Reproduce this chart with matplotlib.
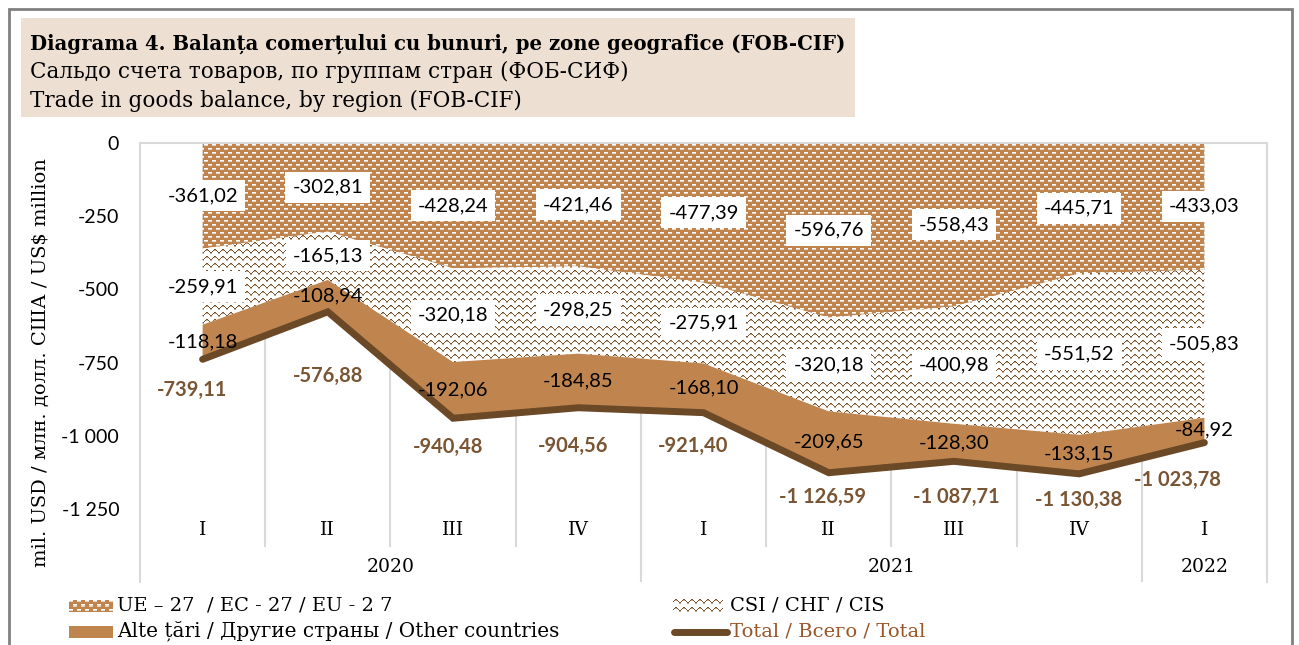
#!/usr/bin/env python3
"""Diagrama 4 - trade in goods balance by region (stacked areas, negative)"""

import matplotlib
matplotlib.use('Agg')
import matplotlib.pyplot as plt
from matplotlib.patches import Polygon, Rectangle
from matplotlib.lines import Line2D
import numpy as np

# ---- data ----
quarters = ['I', 'II', 'III', 'IV', 'I', 'II', 'III', 'IV', 'I']
years = ['2020', '2021', '2022']
eu = [-361.02, -302.81, -428.24, -421.46, -477.39, -596.76, -558.43, -445.71, -433.03]
cis = [-259.91, -165.13, -320.18, -298.25, -275.91, -320.18, -400.98, -551.52, -505.83]
other = [-118.18, -108.94, -192.06, -184.85, -168.10, -209.65, -128.30, -133.15, -84.92]
total = [-739.11, -576.88, -940.48, -904.56, -921.40, -1126.59, -1087.71, -1130.38, -1023.78]
yticks = [0, -250, -500, -750, -1000, -1250]

# label offsets for the total series (pixels, right / down)
total_lbl_off = [(-11, 31), (0, 64), (-5, 29), (-5, 38), (-10, 33),
                 (-6, 24), (2, 36), (-1, 26), (-27, 37)]

TAN = '#C0854F'
DARK = '#6B4826'
LBL_BROWN = '#7A5533'
GRID = '#D9D9D9'
SERIF = 'DejaVu Serif'
SANS = 'Lato'

W, H = 1299, 645
fig = plt.figure(figsize=(W / 100, H / 100), dpi=100)


def fx(px):
    return px / W


def fy(py):
    return 1 - py / H


def fmt(v):
    s = f'{abs(v):,.2f}'.replace(',', ' ').replace('.', ',')
    return '-' + s if v < 0 else s


# textures
def eu_tile():
    t = np.zeros((8, 8, 3))
    t[:] = np.array([192, 133, 79]) / 255
    white = np.array([1.0, 1.0, 1.0])
    light = np.array([232, 214, 196]) / 255
    t[1, 0:4] = white
    t[2, 0:4] = light
    t[5, 4:8] = white
    t[6, 4:8] = light
    return t


def cis_tile():
    t = np.ones((7, 8, 3))
    brown = np.array([118, 78, 42]) / 255
    soft = np.array([196, 168, 140]) / 255
    pts = [(0, 3), (1, 2), (2, 1), (3, 1), (4, 2), (5, 3), (6, 4), (7, 4)]
    for c, r in pts:
        t[r, c] = brown
        if r + 1 < 7 and c in (2, 3, 6, 7):
            t[r + 1, c] = soft
    return t


def texture(tile, h, w):
    th, tw = tile.shape[:2]
    return np.tile(tile, (h // th + 1, w // tw + 1, 1))[:h, :w]


# outer frame + title block
fig.patches.append(Rectangle((fx(9), fy(660)), fx(1292) - fx(9), fy(9) - fy(660),
                             transform=fig.transFigure, fill=False,
                             edgecolor='#808080', linewidth=2))
fig.patches.append(Rectangle((fx(21), fy(117)), fx(855) - fx(21), fy(18) - fy(117),
                             transform=fig.transFigure, facecolor='#EEDFD3',
                             edgecolor='none'))
fig.text(fx(30), fy(44), 'Diagrama 4. Balanța comerțului cu bunuri, pe zone geografice (FOB-CIF)',
         family=SERIF, fontsize=14.2, fontweight='bold', va='center', ha='left')
fig.text(fx(30), fy(72), 'Сальдо счета товаров, по группам стран (ФОБ-СИФ)',
         family=SERIF, fontsize=15.5, va='center', ha='left')
fig.text(fx(30), fy(101), 'Trade in goods balance, by region (FOB-CIF)',
         family=SERIF, fontsize=15.5, va='center', ha='left')

# axes
ax_l, ax_r, ax_t, ax_b = 140, 1267, 143, 582
ax = fig.add_axes([fx(ax_l), fy(ax_b), fx(ax_r) - fx(ax_l), fy(ax_t) - fy(ax_b)])
ax.set_xlim(-0.5, 8.5)
ax.set_ylim(-1500, 0)
ax.set_facecolor('white')

x = np.arange(len(quarters))
eu_a = np.array(eu)
cis_b = eu_a + np.array(cis)
oth_b = cis_b + np.array(other)

aw, ah = ax_r - ax_l, ax_b - ax_t
extent = (-0.5, 8.5, -1500, 0)

# EU area
eu_poly = Polygon(np.column_stack([np.r_[x, x[::-1]], np.r_[np.zeros(len(x)), eu_a[::-1]]]),
                  closed=True, transform=ax.transData, facecolor='none', edgecolor='none')
ax.add_patch(eu_poly)
im = ax.imshow(texture(eu_tile(), ah, aw), extent=extent, aspect='auto',
               interpolation='nearest', origin='upper', zorder=1)
im.set_clip_path(eu_poly)

# CIS area
cis_poly = Polygon(np.column_stack([np.r_[x, x[::-1]], np.r_[eu_a, cis_b[::-1]]]),
                   closed=True, transform=ax.transData, facecolor='none', edgecolor='none')
ax.add_patch(cis_poly)
im2 = ax.imshow(texture(cis_tile(), ah, aw), extent=extent, aspect='auto',
                interpolation='nearest', origin='upper', zorder=1)
im2.set_clip_path(cis_poly)

# Other countries
ax.fill_between(x, cis_b, oth_b, facecolor=TAN, edgecolor='none', zorder=2)
# Total line
ax.plot(x, total, color=DARK, linewidth=5, solid_capstyle='round',
        solid_joinstyle='miter', zorder=3)

# gridlines / dividers
for i in range(len(quarters) - 1):
    xb = i + 0.5
    yend = -1500 if xb in (3.5, 7.5) else -1377
    ax.plot([xb, xb], [0, yend], color=GRID, linewidth=1.5, zorder=0)

for s in ['left', 'right', 'top']:
    ax.spines[s].set_color(GRID)
    ax.spines[s].set_linewidth(1.5)
ax.spines['bottom'].set_visible(False)

ax.set_xticks([])
ax.set_yticks(yticks)
ax.set_yticklabels([fmt(v).replace(',00', '') for v in yticks], family=SANS, fontsize=14)
ax.tick_params(axis='y', length=0, pad=15)

ax.set_ylabel('mil. USD / млн. долл. США / US$ million', family=SERIF, fontsize=14,
              labelpad=8)

# category labels
for i, q in enumerate(quarters):
    ax.text(i, -1322, q, ha='center', va='center', family=SERIF, fontsize=13.5)
for yr, xc in zip(years, [1.5, 5.5, 8]):
    ax.text(xc, -1449, yr, ha='center', va='center', family=SERIF, fontsize=13.5)

# data labels
box = dict(boxstyle='square,pad=0.35', facecolor='white', edgecolor='none')
for i in range(len(x)):
    ax.text(i, eu_a[i] / 2, fmt(eu[i]), ha='center', va='center', family=SANS,
            fontsize=14.5, bbox=box, zorder=5)
    ax.text(i, (eu_a[i] + cis_b[i]) / 2, fmt(cis[i]), ha='center', va='center',
            family=SANS, fontsize=14.5, bbox=box, zorder=5)
    ax.text(i, (cis_b[i] + oth_b[i]) / 2, fmt(other[i]), ha='center', va='center',
            family=SANS, fontsize=14.5, zorder=5)
    dx, dy = total_lbl_off[i]
    ax.annotate(fmt(total[i]), (i, total[i]), xytext=(dx, -dy),
                textcoords='offset pixels', ha='center', va='center', family=SANS,
                fontsize=14.5, fontweight='bold', color=LBL_BROWN, zorder=5)

# legend (manual)
def swatch(x0, y0, x1, y1, tile=None, color=None):
    sax = fig.add_axes([fx(x0), fy(y1), fx(x1) - fx(x0), fy(y0) - fy(y1)])
    sax.axis('off')
    if tile is not None:
        sax.imshow(texture(tile, y1 - y0, x1 - x0), aspect='auto', interpolation='nearest')
    else:
        sax.add_patch(Rectangle((0, 0), 1, 1, facecolor=color, edgecolor='none'))
        sax.set_xlim(0, 1)
        sax.set_ylim(0, 1)


swatch(69, 600, 113, 612, tile=eu_tile())
swatch(69, 626, 113, 638, color=TAN)
swatch(673, 599, 723, 612, tile=cis_tile())
fig.lines.append(Line2D([fx(674), fx(727)], [fy(632), fy(632)], transform=fig.transFigure,
                        color=DARK, linewidth=5, solid_capstyle='round'))
fig.text(fx(117), fy(605), 'UE – 27  / EC - 27 / EU - 2 7', family=SERIF, fontsize=14,
         va='center', ha='left')
fig.text(fx(117), fy(631), 'Alte țări / Другие страны / Other countries', family=SERIF,
         fontsize=14.4, va='center', ha='left')
fig.text(fx(730), fy(605), 'CSI / СНГ / CIS', family=SERIF, fontsize=14,
         va='center', ha='left')
fig.text(fx(730), fy(631), 'Total / Всего / Total', family=SERIF, fontsize=14,
         va='center', ha='left', color='#9A5528')

plt.savefig('out.png', dpi=100, facecolor='white')
plt.close()
